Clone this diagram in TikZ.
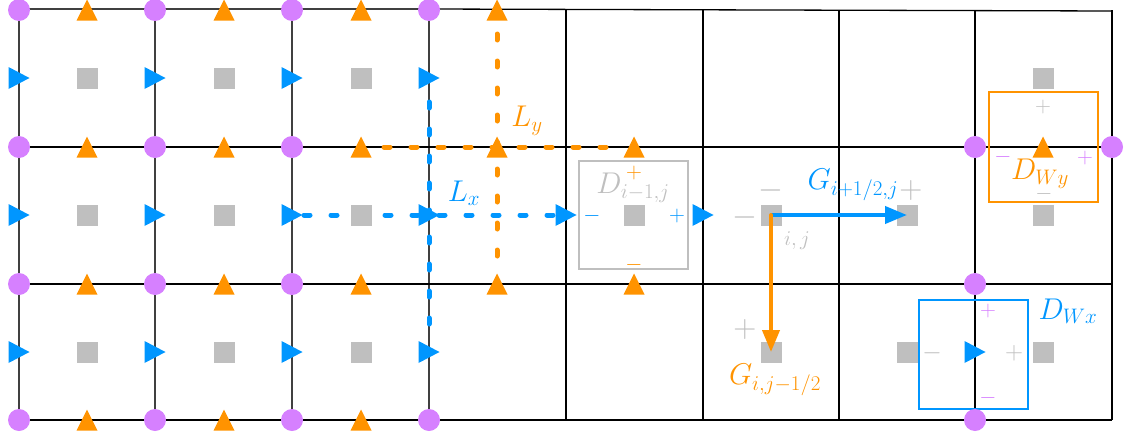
\RequirePackage{fix-cm}
\documentclass[tikz,border=0pt]{standalone}
\usetikzlibrary{arrows.meta}
\definecolor{orng}{RGB}{255,147,0}
\definecolor{blu}{RGB}{0,150,255}
\definecolor{purp}{RGB}{214,128,255}
\definecolor{gry}{RGB}{191,191,191}
\tikzset{
  gridL/.style={draw=black!75, line width=1.3},
  gridR/.style={draw=black, line width=1.3},
  sq/.style={fill=gry, minimum size=21, inner sep=0, draw=none},
  dot/.style={fill=purp, circle, minimum size=22, inner sep=0, draw=none},
  triup/.pic={\fill[orng] (-10.5,10.5) -- (10.5,10.5) -- (0,-10.5) -- cycle;},
  triright/.pic={\fill[blu] (-10.5,-11) -- (-10.5,11) -- (10.5,0) -- cycle;},
  dotline/.style={line width=5, line cap=round, dash pattern=on 6pt off 21pt},
  lbl/.style={inner sep=0, font=\fontsize{30}{36}\selectfont},
  sgn/.style={inner sep=0, font=\fontsize{22}{26}\selectfont},
  midsgn/.style={inner sep=0, font=\fontsize{25}{30}\selectfont},
  bigsgn/.style={inner sep=0, font=\fontsize{32}{38}\selectfont},
  boxd/.style={line width=2.6},
}
\begin{document}
\begin{tikzpicture}[x=1pt,y=-1pt]
\useasboundingbox (0,0) rectangle (1127,434);
% grid
\foreach \x in {19,155,292,429} \draw[gridL] (\x,9) -- (\x,420);
\foreach \x in {566,703,839,975,1112} \draw[gridR] (\x,10) -- (\x,420);
\draw[gridL] (19,9) -- (429,9);
\draw[gridR] (429,9) -- (1112,11);
\foreach \y in {147,284,420} \draw[gridR] (19,\y) -- (1112,\y);

% dotted lines
\draw[dotline, blu] (304,215) -- (558,215);
\draw[dotline, blu] (429,102) -- (429,324);
\draw[dotline, orng] (497,34) -- (497,256);
\draw[dotline, orng] (384,147) -- (606,147);

% squares
\foreach \x/\c in {87/a,224/b,361/c}
  \foreach \y/\r in {78/1,215/2,352/3}
    \node[sq] (s\c\r) at (\x,\y) {};
\node[sq] (sim) at (634,215) {};
\node[sq] (sij) at (771,215) {};
\node[sq] (sip) at (907,215) {};
\node[sq] (sjm) at (771,352) {};
\node[sq] (sy1) at (1043,78) {};
\node[sq] (sy2) at (1043,215) {};
\node[sq] (sx1) at (907,352) {};
\node[sq] (sx2) at (1043,352) {};

% boxes
\draw[boxd, gry] (579,161) rectangle (688,269);
\draw[boxd, orng] (989,92) rectangle (1098,202);
\draw[boxd, blu] (919,300) rectangle (1028,409);

% orange triangles
\foreach \x in {87,224,361}
  \foreach \y in {10,147,284,420}
    \pic at (\x,\y) {triup};
\foreach \y in {10,147,284} \pic at (497,\y) {triup};
\pic at (634,147) {triup};
\pic at (634,284) {triup};
\pic at (1043,147) {triup};

% blue triangles
\foreach \x in {19,155,292,429}
  \foreach \y in {78,215,352}
    \pic at (\x,\y) {triright};
\pic at (566,215) {triright};
\pic at (703,215) {triright};
\pic at (975,352) {triright};

% purple circles
\foreach \x/\c in {19/a,155/b,292/c,429/d} {
  \node[dot] (v\c0) at (\x,10) {};
  \node[dot] (v\c3) at (\x,420) {};
}
\foreach \x/\c in {19/a,155/b,292/c} {
  \node[dot] (v\c1) at (\x,147) {};
  \node[dot] (v\c2) at (\x,284) {};
}
\node[dot] (vy1) at (975,147) {};
\node[dot] (vy2) at (1112,147) {};
\node[dot] (vx1) at (975,284) {};
\node[dot] (vx2) at (975,420) {};

% arrows
\draw[blu, line width=4, -{Triangle[length=22,width=17]}] (sij.center) -- (sip.center);
\draw[orng, line width=4, line cap=round, -{Triangle[length=22,width=17]}] (sij.center) -- (sjm.center);

% labels
\node[lbl, text=orng] (Ly) at (527,121) {$L_y$};
\node[lbl, text=blu] (Lx) at (464,193) {$L_x$};
\node[lbl, text=gry] (Dim) at (633,188) {$D_{i-1,j}$};
\node[lbl, text=blu] (Gx) at (853,185) {$G_{i+1/2,j}$};
\node[lbl, text=orng] (Gy) at (775,380) {$G_{i,j-1/2}$};
\node[lbl, text=orng] (DWy) at (1040,174) {$D_{Wy}$};
\node[lbl, text=blu] (DWx) at (1068,311) {$D_{Wx}$};

% signs in D_{i-1,j}
\node[sgn, text=orng] (dp1) at (634,173) {$+$};
\node[sgn, text=blu] (dm2) at (592,216) {$-$};
\node[sgn, text=blu] (dp3) at (677,216) {$+$};
\node[sgn, text=orng] (dm4) at (634,265) {$-$};

% signs around cell i,j
\node[bigsgn, text=gry] (cm1) at (771,190) {$-$};
\node[bigsgn, text=gry] (cm2) at (745,217) {$-$};
\node[bigsgn, text=gry] (cp3) at (911,190) {$+$};
\node[bigsgn, text=gry] (cp4) at (745,329) {$+$};
\node[inner sep=0, font=\fontsize{21}{25}\selectfont, text=gry] (ij) at (797,241) {$i,j$};

% signs in D_Wy
\node[sgn, text=gry] (yp1) at (1043,107) {$+$};
\node[sgn, text=purp] (ym2) at (1003,157) {$-$};
\node[sgn, text=purp] (yp3) at (1085,158) {$+$};
\node[sgn, text=gry] (ym4) at (1044,194) {$-$};

% signs in D_Wx
\node[sgn, text=purp] (xp1) at (988,311) {$+$};
\node[midsgn, text=gry] (xm2) at (932,353) {$-$};
\node[midsgn, text=gry] (xp3) at (1014,353) {$+$};
\node[sgn, text=purp] (xm4) at (988,398) {$-$};
\end{tikzpicture}
\end{document}
